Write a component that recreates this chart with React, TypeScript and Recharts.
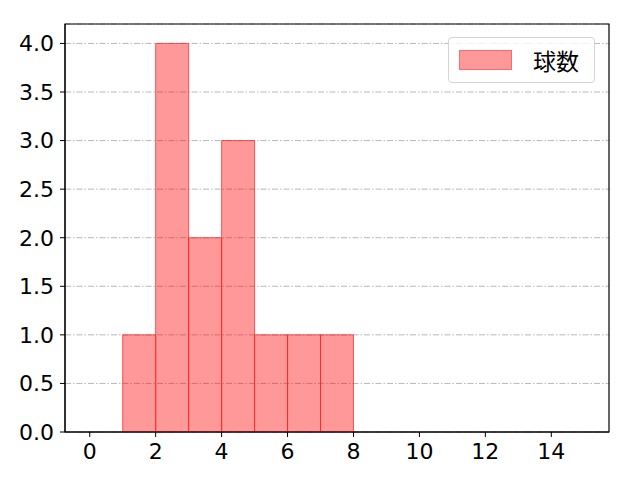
import React from 'react';
import { ComposedChart, Bar, XAxis, YAxis, CartesianGrid, ReferenceArea } from 'recharts';

// histogram bins (bin center) and counts
const binCenters = [1.5, 2.5, 3.5, 4.5, 5.5, 6.5, 7.5];
const counts = [1, 4, 2, 3, 1, 1, 1];
const xTicks = [0, 2, 4, 6, 8, 10, 12, 14];
const yTicks = [0, 0.5, 1, 1.5, 2, 2.5, 3, 3.5, 4];
const xDomain = [-0.75, 15.75];
const yDomain = [0, 4.2];
const seriesName = '球数';

const data = binCenters.map((x, i) => ({ x, count: counts[i] }));

const FONT = '"Noto Sans CJK JP", "Noto Sans", sans-serif';
const TICK_FONT = '"DejaVu Sans", sans-serif';
const tickStyle = { fill: '#000', fontSize: 22, fontFamily: TICK_FONT };

const LegendBox = () => (
  <div
    style={{
      position: 'absolute',
      left: 448,
      top: 37,
      width: 147,
      height: 46,
      boxSizing: 'border-box',
      border: '1px solid #d5d5d5',
      borderRadius: 4,
      background: 'rgba(255,255,255,0.8)',
      display: 'flex',
      alignItems: 'center',
      fontFamily: FONT,
      fontSize: 23,
      color: '#000',
    }}
  >
    <div
      style={{
        marginLeft: 10,
        width: 53,
        height: 20,
        boxSizing: 'border-box',
        background: 'rgba(255,0,0,0.4)',
        border: '1px solid rgba(255,0,0,0.3)',
      }}
    />
    <span style={{ marginLeft: 21 }}>{seriesName}</span>
  </div>
);

const App = () => {
  return (
    <div style={{ position: 'absolute', left: 0, top: 0, width: 640, height: 480, background: '#fff' }}>
      <ComposedChart
        width={640}
        height={480}
        data={data}
        margin={{ top: 24, right: 31, bottom: 18, left: 0 }}
        barCategoryGap={0}
        barGap={0}
        style={{ fontFamily: FONT }}
      >
        <CartesianGrid
          horizontal
          vertical={false}
          stroke="#b0b0b0"
          strokeWidth={0.9}
          strokeDasharray="6 2 1.5 2"
        />
        <XAxis
          dataKey="x"
          type="number"
          domain={xDomain}
          ticks={xTicks}
          allowDataOverflow
          height={30}
          stroke="#000"
          tickLine={{ stroke: '#000' }}
          tickSize={5}
          tickMargin={6}
          tick={tickStyle}
          interval={0}
        />
        <YAxis
          type="number"
          domain={yDomain}
          ticks={yTicks}
          allowDataOverflow
          width={65}
          stroke="#000"
          tickSize={5}
          tickMargin={6}
          tickLine={{ stroke: '#000' }}
          tick={tickStyle}
          tickFormatter={(v: number) => v.toFixed(1)}
          interval={0}
        />
        <Bar
          dataKey="count"
          name={seriesName}
          fill="#ff0000"
          fillOpacity={0.4}
          stroke="#ff2020"
          strokeOpacity={0.7}
          strokeWidth={1}
          isAnimationActive={false}
        />
        <ReferenceArea
          x1={xDomain[0]}
          x2={xDomain[1]}
          y1={yDomain[0]}
          y2={yDomain[1]}
          fill="none"
          stroke="#000"
          strokeWidth={1.2}
          ifOverflow="visible"
        />
      </ComposedChart>
      <LegendBox />
    </div>
  );
};

export default App;
